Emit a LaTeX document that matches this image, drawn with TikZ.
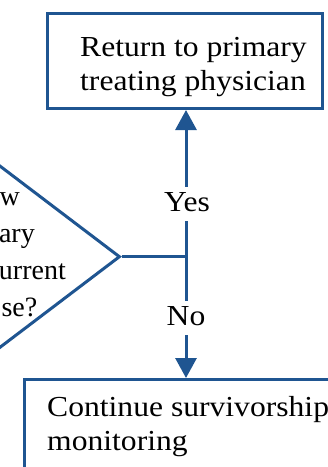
\documentclass[tikz,border=0pt]{standalone}
\usepackage{fontspec}
\setmainfont{Liberation Serif}
\newfontfamily\widefont[FakeStretch=1.09]{Liberation Serif}
\usetikzlibrary{arrows.meta,shapes.geometric}
\definecolor{flowblue}{HTML}{1F5591}
\begin{document}
\begin{tikzpicture}[x=1pt,y=-1pt,
  boxstyle/.style={draw=flowblue, line width=3pt, inner sep=0pt, rectangle},
  conn/.style={draw=flowblue, line width=3pt},
  tipped/.style={-{Triangle[length=20pt,width=21pt]}},
  wtxt/.style={inner sep=0pt, font=\widefont\fontsize{29}{34}\selectfont},
  dtxt/.style={inner sep=0pt, font=\fontsize{28}{37}\selectfont},
  lbl/.style={fill=white, inner xsep=3pt, inner ysep=6pt, text height=19pt, text depth=3pt, font=\widefont\fontsize{29}{34}\selectfont}
]
\useasboundingbox (0,0) rectangle (328,467);
\clip (0,0) rectangle (328,467);

% boxes
\node[boxstyle, minimum width=274.5pt, minimum height=95pt] (ret) at (184.75,61) {};
\node[boxstyle, minimum width=340pt, minimum height=120pt, anchor=north west] (cont) at (22.5,378) {};
\node[draw=flowblue, line width=3pt, diamond, inner sep=0pt, minimum width=320pt, minimum height=243.2pt] (dec) at (-40,256.7) {};

% texts (base anchor = baseline of the last line)
\node[wtxt, anchor=base west, align=left] (rettext) at (80,90) {Return to primary\\treating physician};
\node[wtxt, anchor=base west, align=left] (conttext) at (47,450) {Continue survivorship\\monitoring};
\node[dtxt, anchor=base east] (d1) at (20,205) {w};
\node[dtxt, anchor=base east] (d2) at (35,242) {ary};
\node[dtxt, anchor=base east] (d3) at (66,279.5) {urrent};
\node[dtxt, anchor=base east] (d4) at (37.5,316.7) {se?};

% connectors
\coordinate (j) at (186,256.7);
\draw[conn] (dec.east) -- (j);
\draw[conn, tipped] (j) -- (j |- ret.south);
\draw[conn, tipped] (j) -- (j |- cont.north);

% labels
\node[lbl, anchor=base] (yes) at (187,211.7) {Yes};
\node[lbl, anchor=base] (no) at (186,325.7) {No};
\end{tikzpicture}
\end{document}
